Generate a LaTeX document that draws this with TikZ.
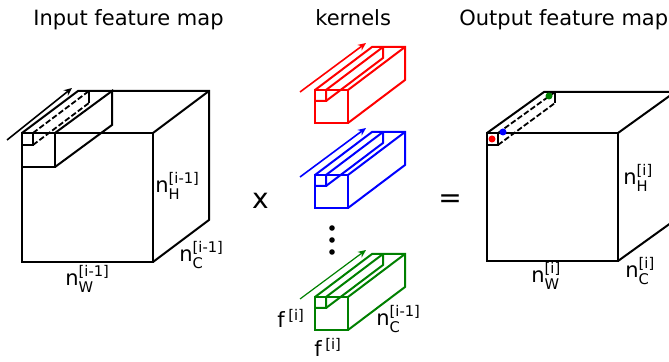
\documentclass[tikz,border=0pt]{standalone}
\usepackage{fontspec}
\setmainfont{DejaVu Sans}
\usepackage{amsmath}
\usetikzlibrary{arrows.meta}
\definecolor{kgreen}{RGB}{0,128,0}

\begin{document}
\begin{tikzpicture}[
  x=0.5pt, y=-0.5pt,
  edge/.style={line width=1pt},
  dline/.style={line width=0.9pt, dash pattern=on 2.8pt off 1.2pt},
  arr/.style={-{Stealth[length=4pt, width=3.5pt]}},
  lbl/.style={font=\fontsize{10.5}{12}\selectfont, inner sep=0pt, anchor=base west},
  sym/.style={font=\fontsize{14}{16}\selectfont, inner sep=0pt},
  dot/.style={circle, fill, inner sep=0pt, minimum size=3.5pt},
]
\clip (0,0) rectangle (669,362);

% titles
\node[lbl] (ttlIn)  at (33,26)  {Input feature map};
\node[lbl] (ttlK)   at (315,26) {kernels};
\node[lbl] (ttlOut) at (459,26) {Output feature map};

% input feature map
\draw[edge] (22,133) rectangle (153,262);
\draw[edge] (22,133) -- (78,91) -- (209,91) -- (209,220) -- (153,262);
\draw[edge] (153,133) -- (209,91);
% kernel sitting on the input
\draw[edge] (22,167) -- (55,167) -- (55,133);
\draw[edge] (55,133) -- (112,91) -- (112,125) -- (55,167);
\draw[edge] (22,145) -- (33,145) -- (33,133);
\draw[dline] (33,133) -- (89,91);
\draw[dline] (33,145) -- (89,103);
\draw[edge] (89,91) -- (89,103);
\coordinate (inA) at (7,140);
\coordinate (inB) at (72,88);
\draw[arr, line width=0.8pt] (inA) -- (inB);

\node[lbl] (inH) at (155,193) {n$^{\text{[i-1]}}_{\text{H}}$};
\node[lbl] (inC) at (179,262) {n$^{\text{[i-1]}}_{\text{C}}$};
\node[lbl] (inW) at (65,286)  {n$^{\text{[i-1]}}_{\text{W}}$};

\node[sym] (times) at (260.5,200.5) {x};

% kernels
\foreach \col/\ky/\aw in {red/90/0.8, blue/175/0.8, kgreen/297/0.6}{
  \begin{scope}[shift={(315,\ky)}, color=\col]
    \draw[edge] (0,0) rectangle (33,33);
    \draw[edge] (0,0) -- (57,-43) -- (90,-43) -- (90,-10) -- (33,33);
    \draw[edge] (33,0) -- (90,-43);
    \draw[edge] (0,11) -- (11,11) -- (11,0) -- (68,-43);
    \draw[edge] (11,11) -- (68,-32) -- (68,-43);
    \draw[arr, line width=\aw pt] (-15,2) -- (51,-47);
  \end{scope}
}
\foreach \dy in {228,240,252}
  \node[dot, minimum size=2.8pt] (vd\dy) at (332,\dy) {};

\node[lbl] (fL) at (277,328) {f\,$^{\text{[i]}}$};
\node[lbl] (fB) at (314,357) {f\,$^{\text{[i]}}$};
\node[lbl] (kC) at (376,326) {n$^{\text{[i-1]}}_{\text{C}}$};

\node[sym] (eq) at (450,201) {=};

% output feature map
\draw[edge] (487,133) rectangle (618,261);
\draw[edge] (487,133) -- (544,92) -- (675,92) -- (675,220) -- (618,261);
\draw[edge] (618,133) -- (675,92);
\draw[edge] (487,145) -- (498,145) -- (498,133);
\draw[dline] (498,133) -- (555,92);
\draw[dline] (498,145) -- (555,103);
\draw[edge] (555,92) -- (555,103);
\node[dot, red]    (pr) at (492,139) {};
\node[dot, blue]   (pb) at (503,132) {};
\node[dot, kgreen] (pg) at (549,96)  {};

\node[lbl] (outH) at (623,185) {n$^{\text{[i]}}_{\text{H}}$};
\node[lbl] (outC) at (625,278) {n$^{\text{[i]}}_{\text{C}}$};
\node[lbl] (outW) at (531,283) {n$^{\text{[i]}}_{\text{W}}$};

\end{tikzpicture}
\end{document}
